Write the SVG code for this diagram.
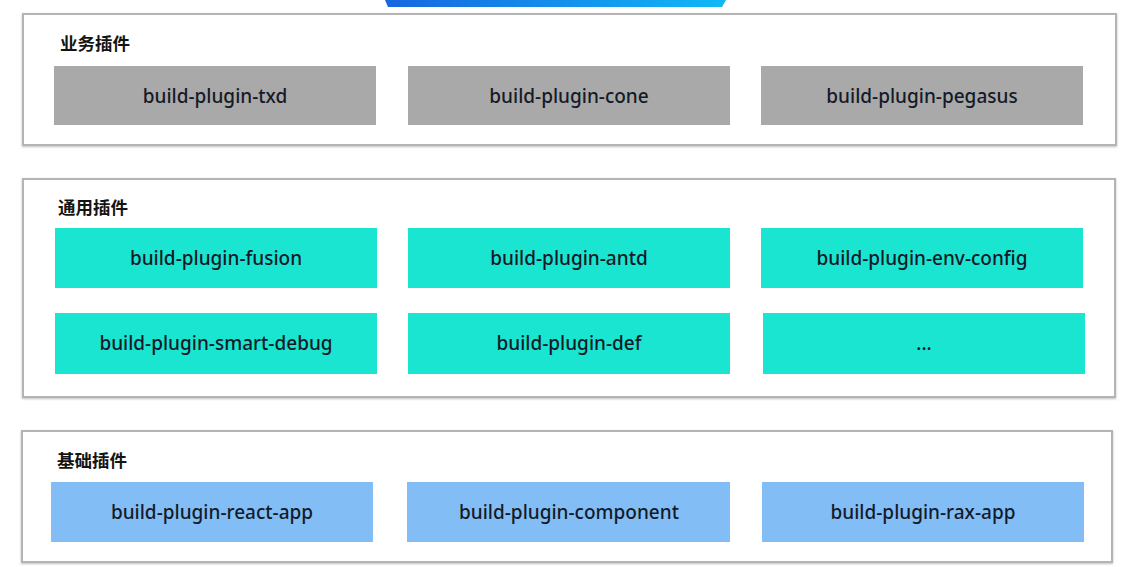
<svg xmlns="http://www.w3.org/2000/svg" width="1132" height="567" viewBox="0 0 1132 567">
<defs>
<linearGradient id="topbar" x1="0" y1="0" x2="1" y2="0">
<stop offset="0" stop-color="#1766e0"/>
<stop offset="1" stop-color="#10b8f6"/>
</linearGradient>
<filter id="sh" x="-5%" y="-10%" width="110%" height="120%">
<feDropShadow dx="0" dy="1" stdDeviation="1" flood-color="#000" flood-opacity="0.25"/>
</filter>
</defs>
<style>
.panel{fill:#fff;stroke:#b4b4b4;stroke-width:2;filter:url(#sh)}
.title{font-family:"Noto Sans CJK SC","Noto Sans",sans-serif;font-size:17.5px;font-weight:700;fill:#141414}
.box-gray{fill:#a9a9a9}
.box-teal{fill:#1ae5d0}
.box-blue{fill:#82bef5}
.lbl{font-family:"Noto Sans","Open Sans",sans-serif;font-size:19px;font-weight:500;fill:#151a28;text-anchor:middle;dominant-baseline:central}
</style>
<rect width="1132" height="567" fill="#fff"/>
<polygon points="385,0 726,0 722,7 388,7" fill="url(#topbar)"/>

<g id="panel-business">
<rect class="panel" x="23" y="14" width="1093" height="131"/>
<text class="title" x="60" y="50">业务插件</text>
</g>
<g id="node-txd"><rect class="box-gray" x="54" y="66" width="322" height="59"/><text class="lbl" x="215" y="96">build-plugin-txd</text></g>
<g id="node-cone"><rect class="box-gray" x="408" y="66" width="322" height="59"/><text class="lbl" x="569" y="96">build-plugin-cone</text></g>
<g id="node-pegasus"><rect class="box-gray" x="761" y="66" width="322" height="59"/><text class="lbl" x="922" y="96">build-plugin-pegasus</text></g>

<g id="panel-common">
<rect class="panel" x="23" y="179" width="1092" height="218"/>
<text class="title" x="58" y="214">通用插件</text>
</g>
<g id="node-fusion"><rect class="box-teal" x="55" y="228" width="322" height="60"/><text class="lbl" x="216" y="258">build-plugin-fusion</text></g>
<g id="node-antd"><rect class="box-teal" x="408" y="228" width="322" height="60"/><text class="lbl" x="569" y="258">build-plugin-antd</text></g>
<g id="node-env-config"><rect class="box-teal" x="761" y="228" width="322" height="60"/><text class="lbl" x="922" y="258">build-plugin-env-config</text></g>
<g id="node-smart-debug"><rect class="box-teal" x="55" y="313" width="322" height="61"/><text class="lbl" x="216" y="343">build-plugin-smart-debug</text></g>
<g id="node-def"><rect class="box-teal" x="408" y="313" width="322" height="61"/><text class="lbl" x="569" y="343">build-plugin-def</text></g>
<g id="node-more"><rect class="box-teal" x="763" y="313" width="322" height="61"/><text class="lbl" x="924" y="343">...</text></g>

<g id="panel-base">
<rect class="panel" x="22" y="431" width="1090" height="131"/>
<text class="title" x="57" y="467">基础插件</text>
</g>
<g id="node-react-app"><rect class="box-blue" x="51" y="482" width="322" height="60"/><text class="lbl" x="212" y="512">build-plugin-react-app</text></g>
<g id="node-component"><rect class="box-blue" x="407" y="482" width="323" height="60"/><text class="lbl" x="569" y="512">build-plugin-component</text></g>
<g id="node-rax-app"><rect class="box-blue" x="762" y="482" width="322" height="60"/><text class="lbl" x="923" y="512">build-plugin-rax-app</text></g>

<g id="connectors"></g>
</svg>
